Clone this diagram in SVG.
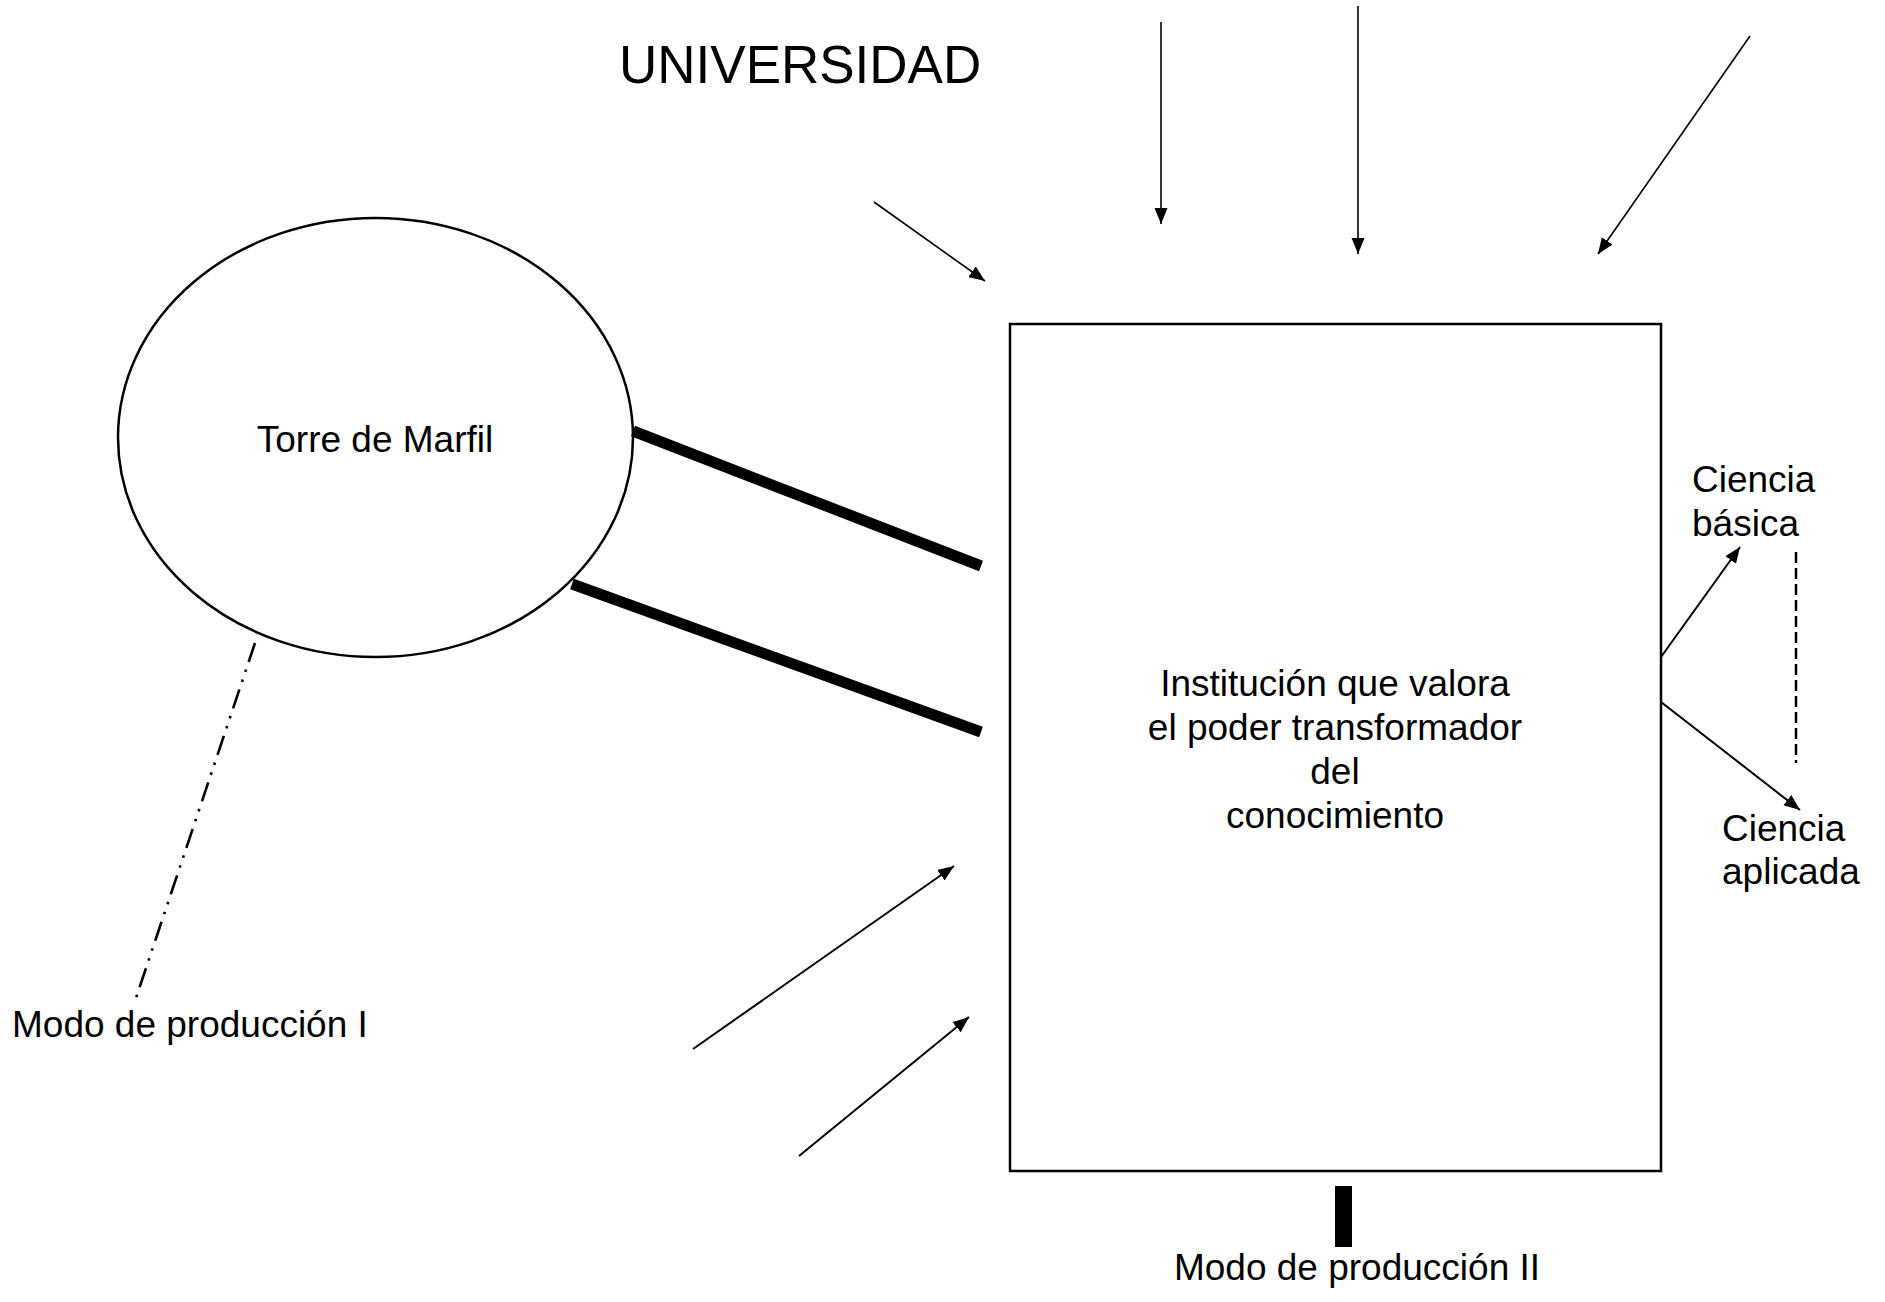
<svg xmlns="http://www.w3.org/2000/svg" width="1885" height="1302" viewBox="0 0 1885 1302">
<style>
text{font-family:"Liberation Sans",Arial,sans-serif;fill:#000}
.lbl{font-size:37px}
.shape{fill:#fff;stroke:#000;stroke-width:2.5}
.arr{stroke:#000;stroke-width:2;fill:none;marker-end:url(#ah)}
.thin{stroke-width:1.6}
.thick{stroke:#000;stroke-width:11;fill:none}
</style>
<defs>
<marker id="ah" markerUnits="userSpaceOnUse" markerWidth="18" markerHeight="14" refX="16" refY="6.5" orient="auto">
<path d="M0,0 L16,6.5 L0,13 z" fill="#000"/>
</marker>
</defs>
<rect width="1885" height="1302" fill="#fff"/>
<text id="title" x="619" y="83" font-size="53">UNIVERSIDAD</text>
<g id="torre">
<ellipse class="shape" cx="375.5" cy="437.5" rx="257.5" ry="219.5"/>
<text class="lbl" x="375" y="452" text-anchor="middle">Torre de Marfil</text>
</g>
<g id="institucion">
<rect class="shape" x="1010" y="324" width="651" height="847"/>
<text class="lbl" x="1335" y="696" text-anchor="middle">Institución que valora</text>
<text class="lbl" x="1335" y="740" text-anchor="middle">el poder transformador</text>
<text class="lbl" x="1335" y="784" text-anchor="middle">del</text>
<text class="lbl" x="1335" y="828" text-anchor="middle">conocimiento</text>
</g>
<g id="modo1"><text class="lbl" x="12" y="1037">Modo de producción I</text></g>
<g id="modo2"><text class="lbl" x="1357" y="1280" text-anchor="middle">Modo de producción II</text></g>
<g id="basica"><text class="lbl" x="1692" y="492">Ciencia</text><text class="lbl" x="1692" y="536">básica</text></g>
<g id="aplicada"><text class="lbl" x="1722" y="841">Ciencia</text><text class="lbl" x="1722" y="884">aplicada</text></g>
<g id="connectors">
<line class="arr thin" x1="1161" y1="22" x2="1161" y2="224"/>
<line class="arr thin" x1="1358" y1="6" x2="1358" y2="254"/>
<line class="arr thin" x1="1750" y1="36" x2="1598" y2="254"/>
<line class="arr thin" x1="874" y1="202" x2="985" y2="281"/>
<line class="arr" x1="693" y1="1049" x2="954" y2="866"/>
<line class="arr" x1="799" y1="1156" x2="969" y2="1017"/>
<line class="arr" x1="1661" y1="657" x2="1740" y2="547"/>
<line class="arr" x1="1661" y1="702" x2="1800" y2="810"/>
<line class="thick" x1="633" y1="431" x2="981" y2="566"/>
<line class="thick" x1="572" y1="584" x2="981" y2="732"/>
<line x1="255" y1="643" x2="136" y2="998" stroke="#000" stroke-width="2.6" stroke-dasharray="20 8 2.5 8 2.5 8"/>
<line x1="1796" y1="552" x2="1796" y2="763" stroke="#000" stroke-width="2.5" stroke-dasharray="11 5"/>
<rect x="1335" y="1186" width="17" height="61" fill="#000"/>
</g>
</svg>
